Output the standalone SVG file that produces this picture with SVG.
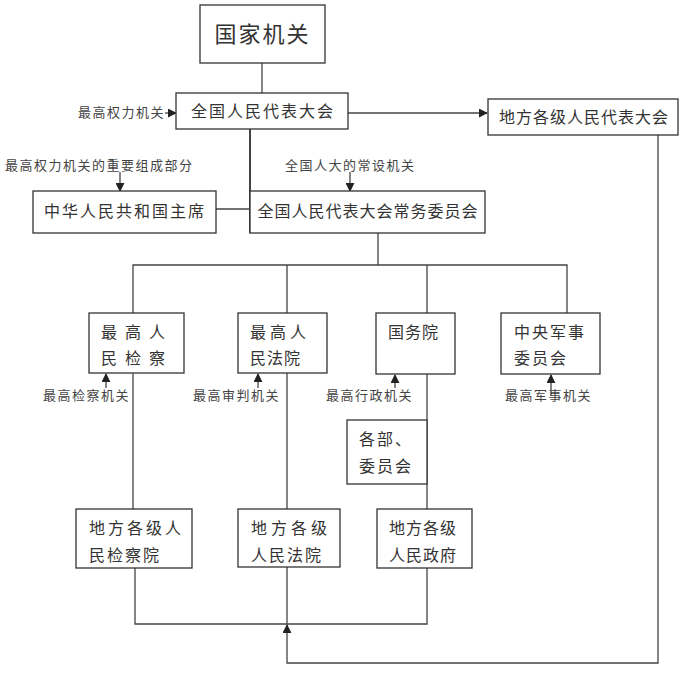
<svg xmlns="http://www.w3.org/2000/svg" width="700" height="680" viewBox="0 0 700 680">
<defs>
<marker id="ar" viewBox="0 0 10 10" refX="9" refY="5" markerWidth="9" markerHeight="9" markerUnits="userSpaceOnUse" orient="auto"><path d="M0,0 L10,5 L0,10 z" fill="#222"/></marker>
<style>
rect{fill:#fff;stroke:#333;stroke-width:1.3}
text{font-family:"Noto Sans CJK SC",sans-serif;fill:#333}
.b{font-size:16px;letter-spacing:2px}
.l{font-size:13px;fill:#444;letter-spacing:1.5px}
.c line,.c polyline{stroke:#444;stroke-width:1.3;fill:none}
.a{marker-end:url(#ar)}
</style>
</defs>
<rect x="0" y="0" width="700" height="680" style="fill:#fff;stroke:none"/>
<g class="c" id="connectors">
<line x1="262" y1="63" x2="262" y2="93"/>
<line class="a" x1="348" y1="113" x2="487" y2="113"/>
<line x1="250" y1="129" x2="250" y2="233" style="stroke-width:2"/>
<line x1="216" y1="209" x2="250" y2="209"/>
<line x1="378" y1="233" x2="378" y2="265"/>
<polyline points="133,313 133,265 567,265 567,313"/>
<line x1="287" y1="265" x2="287" y2="313"/>
<line x1="427" y1="265" x2="427" y2="313"/>
<line x1="133" y1="373" x2="133" y2="509"/>
<line x1="287" y1="373" x2="287" y2="509"/>
<line x1="427" y1="374" x2="427" y2="509"/>
<polyline points="135,568 135,624 427,624 427,568"/>
<line x1="287" y1="567" x2="287" y2="624"/>
<polyline class="a" points="658,135 658,663 287,663 287,625"/>
<line class="a" x1="165" y1="113" x2="176" y2="113"/>
<line class="a" x1="120" y1="172" x2="120" y2="191"/>
<line class="a" x1="350" y1="172" x2="350" y2="191"/>
<line class="a" x1="106" y1="388" x2="106" y2="374"/>
<line class="a" x1="258" y1="388" x2="258" y2="374"/>
<line class="a" x1="395" y1="388" x2="395" y2="375"/>
<line class="a" x1="551" y1="396" x2="551" y2="375"/>
</g>
<g id="guojia"><rect x="200" y="5" width="125" height="58"/><text x="262.5" y="42" font-size="22" letter-spacing="2" text-anchor="middle">国家机关</text></g>
<g id="renda"><rect x="176" y="93" width="172" height="36"/><text class="b" x="263" y="117" text-anchor="middle">全国人民代表大会</text></g>
<g id="difangrenda"><rect x="488" y="99" width="190" height="36"/><text class="b" x="584" y="123" text-anchor="middle" style="letter-spacing:1px">地方各级人民代表大会</text></g>
<g id="zhuxi"><rect x="33" y="191" width="183" height="42"/><text class="b" x="125" y="217" text-anchor="middle">中华人民共和国主席</text></g>
<g id="changwei"><rect x="250" y="191" width="235" height="42"/><text class="b" x="368" y="217" text-anchor="middle" style="letter-spacing:1px">全国人民代表大会常务委员会</text></g>
<g id="jiancha"><rect x="89" y="313" width="95" height="60"/><text class="b" x="101" y="338" style="letter-spacing:8px">最高人</text><text class="b" x="101" y="364" style="letter-spacing:8px">民检察</text></g>
<g id="fayuan"><rect x="238" y="313" width="89" height="60"/><text class="b" x="250" y="338" style="letter-spacing:4px">最高人</text><text class="b" x="250" y="364" style="letter-spacing:1px">民法院</text></g>
<g id="guowuyuan"><rect x="376" y="313" width="79" height="61"/><text class="b" x="388" y="338" style="letter-spacing:1px">国务院</text></g>
<g id="junwei"><rect x="501" y="313" width="99" height="61"/><text class="b" x="514" y="338">中央军事</text><text class="b" x="514" y="364">委员会</text></g>
<g id="bubu"><rect x="347" y="420" width="80" height="64"/><text class="b" x="359" y="445">各部、</text><text class="b" x="359" y="472">委员会</text></g>
<g id="dfjc"><rect x="76" y="509" width="116" height="59"/><text class="b" x="89" y="534" style="letter-spacing:3px">地方各级人</text><text class="b" x="89" y="561">民检察院</text></g>
<g id="dffy"><rect x="238" y="509" width="102" height="58"/><text class="b" x="251" y="534" style="letter-spacing:4px">地方各级</text><text class="b" x="251" y="561">人民法院</text></g>
<g id="dfzf"><rect x="377" y="509" width="95" height="59"/><text class="b" x="389" y="534" style="letter-spacing:1px">地方各级</text><text class="b" x="389" y="561" style="letter-spacing:1px">人民政府</text></g>
<g id="labels">
<text class="l" x="78" y="117">最高权力机关</text>
<text class="l" x="5" y="170">最高权力机关的重要组成部分</text>
<text class="l" x="285" y="170">全国人大的常设机关</text>
<text class="l" x="43" y="400">最高检察机关</text>
<text class="l" x="193" y="400">最高审判机关</text>
<text class="l" x="326" y="400">最高行政机关</text>
<text class="l" x="505" y="400">最高军事机关</text>
</g>
</svg>
